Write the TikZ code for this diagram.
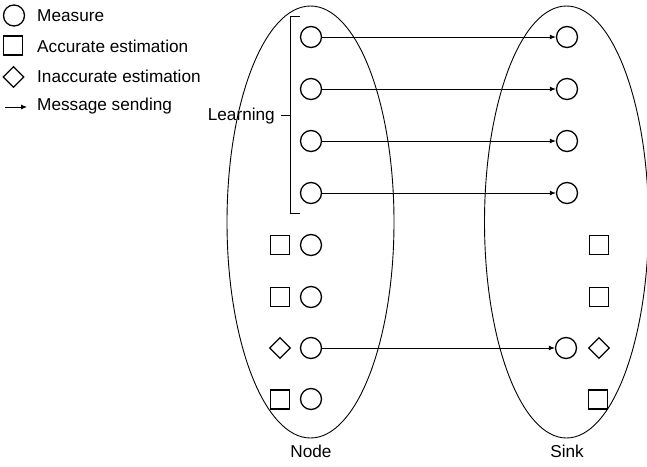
\documentclass[tikz,border=0pt]{standalone}
\usepackage{fontspec}
\setmainfont{Liberation Sans}
\usetikzlibrary{shapes.geometric,arrows.meta}
\begin{document}
\begin{tikzpicture}[x=1pt,y=-1pt,
  every node/.style={font=\fontsize{17.2}{20}\selectfont},
  meas/.style={circle,draw,line width=1.3pt,minimum size=21pt,inner sep=0pt},
  acc/.style={rectangle,draw,line width=1.3pt,minimum size=19pt,inner sep=0pt},
  inacc/.style={diamond,draw,line width=1.3pt,minimum width=21pt,minimum height=21pt,inner sep=0pt},
  msg/.style={line width=0.9pt,-{Latex[length=6pt,width=5pt]}},
  txt/.style={anchor=west,inner sep=0pt},
  group/.style={draw,line width=0.9pt}]
\useasboundingbox (0,0) rectangle (647,466);
% legend
\node[meas] (lm) at (14,15.5) {};
\node[txt] (tm) at (37,15.5) {Measure};
\node[acc] (la) at (13,45.5) {};
\node[txt] (ta) at (37,46) {Accurate estimation};
\node[inacc] (li) at (13.5,77) {};
\node[txt] (ti) at (37,76.5) {Inaccurate estimation};
\coordinate (la1) at (5,107);
\coordinate (la2) at (27,107);
\draw[msg] (la1) -- (la2);
\node[txt] (ts) at (37,106) {Message sending};
% groups
\node[group,ellipse,minimum width=167pt,minimum height=432pt,inner sep=0pt] (node) at (310.5,222) {};
\node[group,ellipse,minimum width=164pt,minimum height=432pt,inner sep=0pt] (sink) at (566.5,222) {};
\node[inner sep=0pt] (nodelbl) at (311,451) {Node};
\node[inner sep=0pt] (sinklbl) at (567,451) {Sink};
% rows
\foreach \i/\y in {1/37,2/89,3/141,4/193,5/245,6/297,7/348,8/399}{
  \node[meas] (n\i) at (311,\y) {};
}
\foreach \i/\y in {1/37,2/89,3/141,4/193}{
  \node[meas] (s\i) at (567,\y) {};
  \draw[msg] (n\i) -- (s\i);
}
\node[acc] (na5) at (280,245) {};
\node[acc] (na6) at (280,297) {};
\node[inacc] (ni7) at (280,348) {};
\node[acc] (na8) at (280,399.5) {};
\node[meas] (s7) at (566,348) {};
\draw[msg] (n7) -- (s7);
\node[acc] (sa5) at (599,245) {};
\node[acc] (sa6) at (599,297) {};
\node[inacc] (si7) at (599,348) {};
\node[acc] (sa8) at (598,399.5) {};
% learning bracket
\coordinate (bt) at (300,16);
\coordinate (bb) at (300,213);
\coordinate (bm) at (290.5,115);
\coordinate (bl) at (281,115);
\draw[line width=1pt] (bt) -- (bt -| bm) -- (bb -| bm) -- (bb);
\draw[line width=1pt] (bm) -- (bl);
\node[anchor=east,inner sep=0pt] (learn) at (275,116) {Learning};
\end{tikzpicture}
\end{document}
